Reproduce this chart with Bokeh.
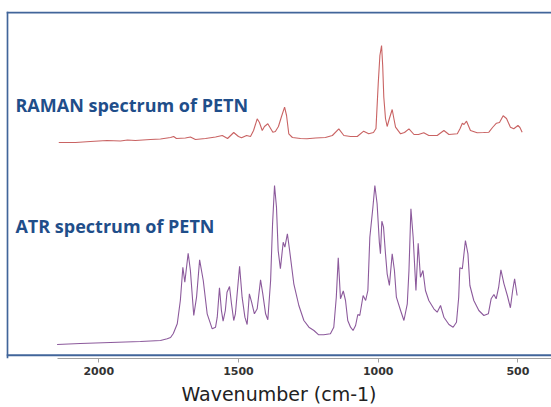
from bokeh.plotting import figure
from bokeh.models import Range1d, FixedTicker, Span, Label
from bokeh.embed import file_html
from bokeh.resources import INLINE

# Raman spectrum of PETN (wavenumber cm-1, intensity a.u. incl. offset)
raman_wn = [2143, 2083, 2030, 1970, 1922, 1897, 1869, 1815, 1779, 1743, 1732, 1722,
            1690, 1672, 1654, 1618, 1582, 1558, 1539, 1517, 1500, 1489, 1471, 1457,
            1446, 1433, 1425, 1415, 1407, 1395, 1385, 1377, 1368, 1357, 1346, 1335,
            1328, 1320, 1307, 1278, 1255, 1224, 1189, 1164, 1141, 1123, 1099, 1075,
            1052, 1034, 1017, 1008, 1000, 994, 988, 984, 980, 974, 968, 960, 950,
            944, 938, 920, 906, 890, 872, 856, 837, 819, 789, 765, 747, 717, 707,
            699, 693, 684, 670, 646, 623, 604, 591, 577, 566, 553, 541, 527, 515,
            500, 493, 485]
raman_int = [216, 216, 217, 218, 217.5, 218.5, 218, 219, 219.5, 221, 222, 220,
             220.5, 221.5, 219, 220, 221.5, 223, 220, 226, 222, 220.7, 223, 222,
             228, 239.7, 236, 228, 232, 234.7, 230, 226.3, 227, 232, 242, 251.3,
             243, 224.7, 221, 220, 219.7, 220.5, 221, 223, 229.7, 223, 222, 222,
             227.3, 224.7, 226, 230, 274.7, 303, 313, 293, 261.3, 240, 232, 240, 249,
             240, 231.3, 224.7, 226, 229.7, 224, 224, 225.7, 223, 223, 228, 224, 224.7, 230,
             235.3, 234, 237.3, 228, 225.7, 226, 226.3, 231, 235.3, 236, 242.7, 240, 231.3, 229.7,
             233, 231, 226.3]

# ATR spectrum of PETN (wavenumber cm-1, absorbance a.u.)
atr_wn = [2149, 2066, 1958, 1851, 1779, 1755, 1743, 1733, 1719, 1708, 1699, 1692,
          1680, 1672, 1660, 1650, 1639, 1626, 1612, 1594, 1582, 1576, 1568, 1561,
          1555, 1547, 1541, 1532, 1525, 1517, 1511, 1496, 1487, 1477, 1469, 1461,
          1453, 1443, 1433, 1421, 1413, 1403, 1395, 1385, 1378, 1371, 1364, 1358,
          1350, 1340, 1334, 1325, 1317, 1302, 1284, 1266, 1248, 1230, 1213, 1195,
          1171, 1159, 1150, 1143, 1135, 1125, 1117, 1109, 1099, 1090, 1081, 1073,
          1066, 1054, 1045, 1037, 1030, 1019, 1012, 1004, 996, 992, 987, 981, 974,
          968, 960, 950, 942, 935, 920, 908, 896, 890, 883, 875, 865, 857, 849, 840,
          831, 819, 801, 789, 777, 765, 747, 732, 720, 712, 708, 699, 688, 679, 672,
          658, 640, 622, 606, 596, 586, 578, 569, 561, 550, 538, 527, 519, 512, 503]
atr_int = [14, 15, 16, 17, 18, 19.7, 21, 25, 34.7, 58, 91.3, 76.3,
           105.3, 88, 43, 61.3, 98.7, 78, 44.7, 29.7, 31.3, 41.3, 70.7, 48,
           37.3, 48, 66.3, 72, 54.7, 38, 44.7, 92.3, 61.3, 41.3, 34, 64.7,
           56.3, 44.7, 49.7, 78.7, 64.7, 44.7, 38.7, 78, 134.7, 173, 151.3, 108,
           89.7, 116.3, 111.3, 124.7, 108, 74.7, 53, 38, 31.3, 28, 23.7, 23.7,
           24.7, 31.3, 61.3, 100.7, 59.7, 67.5, 58, 38, 31.3, 28, 33, 44,
           43, 63, 58, 68, 121.3, 151.3, 173, 154.7, 116.3, 104.7, 137.3, 131.3, 104.7,
           84.7, 73, 104.7, 88, 61.3, 48, 38, 54.7, 88, 149.7, 121.3, 68, 115.3, 81.3, 88,
           68, 58, 49.7, 46.3, 53, 41.3, 34, 31.3, 36.3, 61.3, 90.7, 89.7, 118, 104.7, 73,
           58, 48, 43, 44.7, 59.7, 64, 59.7, 71.3, 88.7, 74.7, 63, 50.7, 68, 79.7, 63]

x_ticks = [2000, 1500, 1000, 500]
x_label = "Wavenumber (cm-1)"
raman_title = "RAMAN spectrum of PETN"
atr_title = "ATR spectrum of PETN"

p = figure(width=551, height=407, output_backend="svg", toolbar_location=None,
           x_range=Range1d(2330, 380), y_range=Range1d(0, 347),
           min_border_left=6, min_border_right=0, min_border_top=11, min_border_bottom=49,
           y_axis_location=None)
p.outline_line_color = None
p.grid.visible = False
p.background_fill_color = "white"
p.border_fill_color = "white"

frame_col = "#41659a"
p.add_layout(Span(location=2327, dimension="height", line_color=frame_col, line_width=2))
p.add_layout(Span(location=346, dimension="width", line_color=frame_col, line_width=2))
p.add_layout(Span(location=3.3, dimension="width", line_color=frame_col, line_width=2))

p.line(raman_wn, raman_int, line_color="#c96363", line_width=1.1)
p.line(atr_wn, atr_int, line_color="#8c5a9c", line_width=1.1)

ax = p.xaxis[0]
ax.ticker = FixedTicker(ticks=x_ticks)
ax.bounds = (2148, 380)
ax.axis_line_color = "#a0a0a0"
ax.axis_line_width = 1
ax.major_tick_line_color = "#a0a0a0"
ax.major_tick_in = 0
ax.major_tick_out = 4
ax.minor_tick_line_color = None
ax.major_label_text_font = "DejaVu Sans"
ax.major_label_text_font_style = "bold"
ax.major_label_text_font_size = "11px"
ax.major_label_text_color = "#333333"
ax.major_label_standoff = 4
ax.axis_label = x_label
ax.axis_label_text_font = "DejaVu Sans"
ax.axis_label_text_font_style = "normal"
ax.axis_label_text_font_size = "19px"
ax.axis_label_text_color = "#222222"
ax.axis_label_standoff = 5

for txt, yb in [(raman_title, 254), (atr_title, 132.5)]:
    p.add_layout(Label(x=2298, y=yb, text=txt, text_font="Open Sans",
                       text_font_style="bold", text_font_size="18px",
                       text_color="#1f4e8a", text_baseline="alphabetic"))

open("out.html", "w").write(file_html(p, INLINE))
